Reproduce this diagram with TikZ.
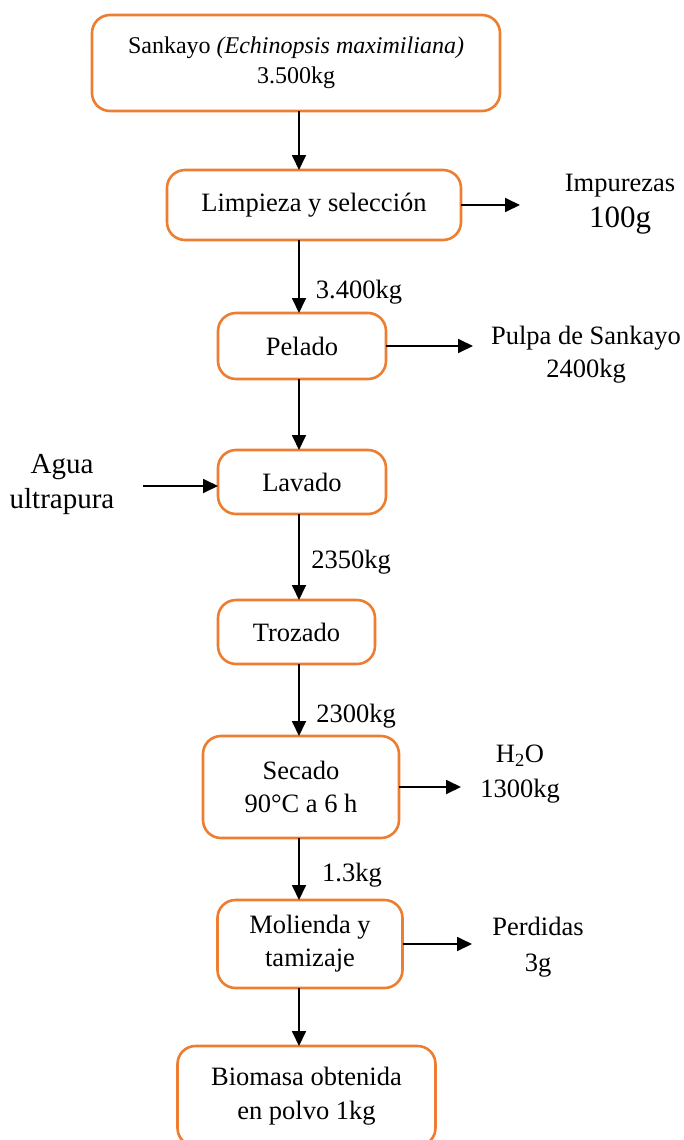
\documentclass[tikz,border=0pt]{standalone}
\usepackage{fontspec}
\setmainfont{Liberation Serif}
\usetikzlibrary{arrows.meta}
\definecolor{naranja}{RGB}{237,125,49}
\tikzset{etapa/.style = {shape = rectangle, rounded corners = 18pt, draw = naranja, line width = 2.6pt, align = center, inner sep = 0pt, outer sep = 0pt, font = \fontsize{26.5}{33}\selectfont}}
\tikzset{texto/.style = {align = center, inner sep = 0pt, font = \fontsize{26.5}{33}\selectfont}}
\tikzset{flujo/.style = {-{Triangle[length = 15pt, width = 14pt]}, line width = 1.8pt}}

\begin{document}
\begin{tikzpicture}[x = 1pt, y = -1pt]
				\useasboundingbox (0, 0) rectangle (683, 1140);

				\node[etapa, minimum width = 408pt, minimum height = 96pt, font = \fontsize{24}{30}\selectfont] (sankayo) at (296, 63) {Sankayo \textit{(Echinopsis maximiliana)}\\3.500kg};
				\node[etapa, minimum width = 294pt, minimum height = 70pt] (limpieza) at (314, 205) {Limpieza y selección};
				\node[etapa, minimum width = 168pt, minimum height = 66pt] (pelado) at (302, 346) {Pelado};
				\node[etapa, minimum width = 168pt, minimum height = 64pt] (lavado) at (302, 482) {Lavado};
				\node[etapa, minimum width = 157pt, minimum height = 64pt] (trozado) at (296.5, 632) {Trozado};
				\node[etapa, minimum width = 196pt, minimum height = 102pt] (secado) at (301, 787) {Secado\\90°C a 6 h};
				\node[etapa, minimum width = 185pt, minimum height = 88pt] (molienda) at (310, 944) {Molienda y\\tamizaje};
				\node[etapa, minimum width = 258pt, minimum height = 100pt, font = \fontsize{26.5}{34}\selectfont] (biomasa) at (306.5, 1096) {Biomasa obtenida\\en polvo 1kg};

				\node[texto, font = \fontsize{26.5}{36}\selectfont] (impurezas) at (620, 204) {Impurezas\\{\fontsize{31}{36}\selectfont 100g}};
				\node[texto] (pulpa) at (586, 354.5) {Pulpa de Sankayo\\2400kg};
				\node[texto, font = \fontsize{29}{35}\selectfont] (agua) at (62, 484.5) {Agua\\ultrapura};
				\node[texto, font = \fontsize{26.5}{35}\selectfont] (agua2) at (520, 774.5) {H\textsubscript{2}O\\1300kg};
				\node[texto, font = \fontsize{26.5}{36}\selectfont] (perdidas) at (538, 947) {Perdidas\\3g};

				\node[texto] (m1) at (359, 292) {3.400kg};
				\node[texto] (m2) at (351, 562) {2350kg};
				\node[texto] (m3) at (356, 716) {2300kg};
				\node[texto] (m4) at (352, 875) {1.3kg};

				\coordinate (eje) at (299, 0);
				\coordinate (imp) at (520, 205);
				\coordinate (pul) at (473, 348);
				\coordinate (agu) at (143, 486);
				\coordinate (vap) at (461, 785);
				\coordinate (per) at (472, 945);

				\draw[flujo] (sankayo.south -| eje) -- (limpieza.north -| eje);
				\draw[flujo] (limpieza.south -| eje) -- (pelado.north -| eje);
				\draw[flujo] (pelado.south -| eje) -- (lavado.north -| eje);
				\draw[flujo] (lavado.south -| eje) -- (trozado.north -| eje);
				\draw[flujo] (trozado.south -| eje) -- (secado.north -| eje);
				\draw[flujo] (secado.south -| eje) -- (molienda.north -| eje);
				\draw[flujo] (molienda.south -| eje) -- (biomasa.north -| eje);

				\draw[flujo] (limpieza.east) -- (imp);
				\draw[flujo] (pelado.east) -- (pelado.east -| pul);
				\draw[flujo] (agu) -- (agu -| lavado.west);
				\draw[flujo] (secado.east) -- (secado.east -| vap);
				\draw[flujo] (molienda.east) -- (molienda.east -| per);
			\end{tikzpicture}
\end{document}
